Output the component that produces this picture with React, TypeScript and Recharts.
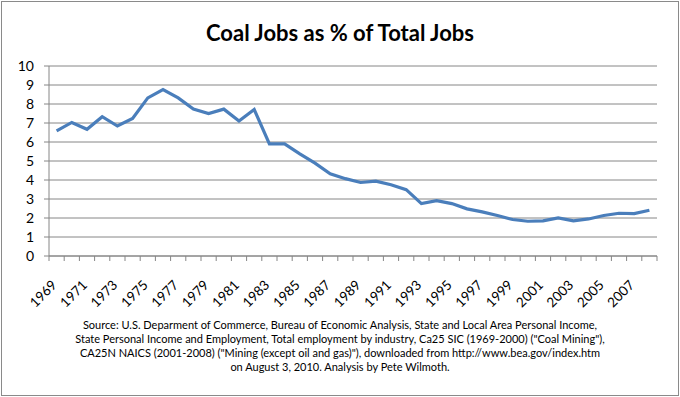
import React from "react";
import { CartesianGrid, Line, LineChart, XAxis, YAxis } from "recharts";

// Coal jobs as a share of total jobs, by year
const years = [
  1969, 1970, 1971, 1972, 1973, 1974, 1975, 1976, 1977, 1978, 1979, 1980,
  1981, 1982, 1983, 1984, 1985, 1986, 1987, 1988, 1989, 1990, 1991, 1992,
  1993, 1994, 1995, 1996, 1997, 1998, 1999, 2000, 2001, 2002, 2003, 2004,
  2005, 2006, 2007, 2008,
];
const coalShare = [
  6.58, 7.03, 6.67, 7.33, 6.84, 7.24, 8.32, 8.76, 8.32, 7.73, 7.5, 7.73,
  7.1, 7.71, 5.9, 5.9, 5.38, 4.89, 4.33, 4.07, 3.87, 3.94, 3.75, 3.49,
  2.76, 2.91, 2.76, 2.48, 2.32, 2.13, 1.92, 1.83, 1.85, 2.01, 1.85, 1.95,
  2.13, 2.25, 2.23, 2.41,
];
const yearLabels = [
  1969, 1971, 1973, 1975, 1977, 1979, 1981, 1983, 1985, 1987, 1989, 1991,
  1993, 1995, 1997, 1999, 2001, 2003, 2005, 2007,
];
const yTicks = [0, 1, 2, 3, 4, 5, 6, 7, 8, 9, 10];

const title = "Coal Jobs as % of Total Jobs";
const sourceLines = [
  "Source: U.S. Deparment of Commerce, Bureau of Economic Analysis, State and Local Area Personal Income,",
  'State Personal Income and Employment, Total employment by industry, Ca25 SIC (1969-2000) ("Coal Mining"),',
  'CA25N NAICS (2001-2008) ("Mining (except oil and gas)"), downloaded from http://www.bea.gov/index.htm',
  "on August 3, 2010. Analysis by Pete Wilmoth.",
];

const data = years.map((year, i) => ({ year, share: coalShare[i] }));

// tick marks sit between the years, labels on every other year
const boundaryTicks = [
  ...years.map((y) => y - 0.5),
  years[years.length - 1] + 0.5,
];
const xTicks = [...boundaryTicks, ...yearLabels].sort((a, b) => a - b);

const FONT = "Lato, 'Open Sans', sans-serif";
const GRID = "#868686";
const LINE_BLUE = "#4A7EBB";

const YearTick = (props: any) => {
  const { x, y, payload } = props;
  const v = payload.value;
  if (!Number.isInteger(v)) {
    return <line x1={x} y1={y} x2={x} y2={y + 5} stroke={GRID} />;
  }
  const ax = x + 1;
  const ay = y + 30;
  return (
    <text
      x={ax}
      y={ay}
      transform={`rotate(-45, ${ax}, ${ay})`}
      textAnchor="end"
      fontSize={13.5}
      fontFamily={FONT}
      fill="#000"
    >
      {v}
    </text>
  );
};

export default function App() {
  return (
    <div
      style={{
        position: "absolute",
        left: 0,
        top: 0,
        width: 680,
        height: 397,
        background: "#fff",
        fontFamily: FONT,
      }}
    >
      <div
        style={{
          position: "absolute",
          left: 1,
          top: 1,
          width: 676,
          height: 393,
          border: "1px solid #8a8a8a",
        }}
      />
      <div
        style={{
          position: "absolute",
          top: 19,
          width: 680,
          textAlign: "center",
          fontSize: 22,
          fontWeight: 700,
          color: "#000",
        }}
      >
        {title}
      </div>
      <div style={{ position: "absolute", left: 0, top: 0 }}>
        <LineChart
          width={680}
          height={320}
          data={data}
          margin={{ top: 66, right: 23, bottom: 14, left: 0 }}
        >
          <CartesianGrid
            horizontal={true}
            vertical={false}
            stroke={GRID}
            strokeDasharray="0"
          />
          <XAxis
            dataKey="year"
            type="number"
            domain={[1968.5, 2008.5]}
            ticks={xTicks}
            interval={0}
            tick={<YearTick />}
            tickLine={false}
            tickSize={0}
            tickMargin={0}
            height={50}
            axisLine={{ stroke: GRID }}
          />
          <YAxis
            domain={[0, 10]}
            ticks={yTicks}
            interval={0}
            width={49}
            tickSize={5}
            tickMargin={10}
            tickLine={{ stroke: GRID }}
            axisLine={{ stroke: GRID }}
            tick={{ fill: "#000", fontSize: 14, fontFamily: FONT }}
          />
          <Line
            type="linear"
            dataKey="share"
            stroke={LINE_BLUE}
            strokeWidth={3.2}
            dot={false}
            isAnimationActive={false}
          />
        </LineChart>
      </div>
      <div
        style={{
          position: "absolute",
          top: 318,
          width: 680,
          textAlign: "center",
          fontSize: 11,
          lineHeight: "14px",
          color: "#000",
        }}
      >
        {sourceLines.map((l, i) => (
          <div key={i}>{l}</div>
        ))}
      </div>
    </div>
  );
}
